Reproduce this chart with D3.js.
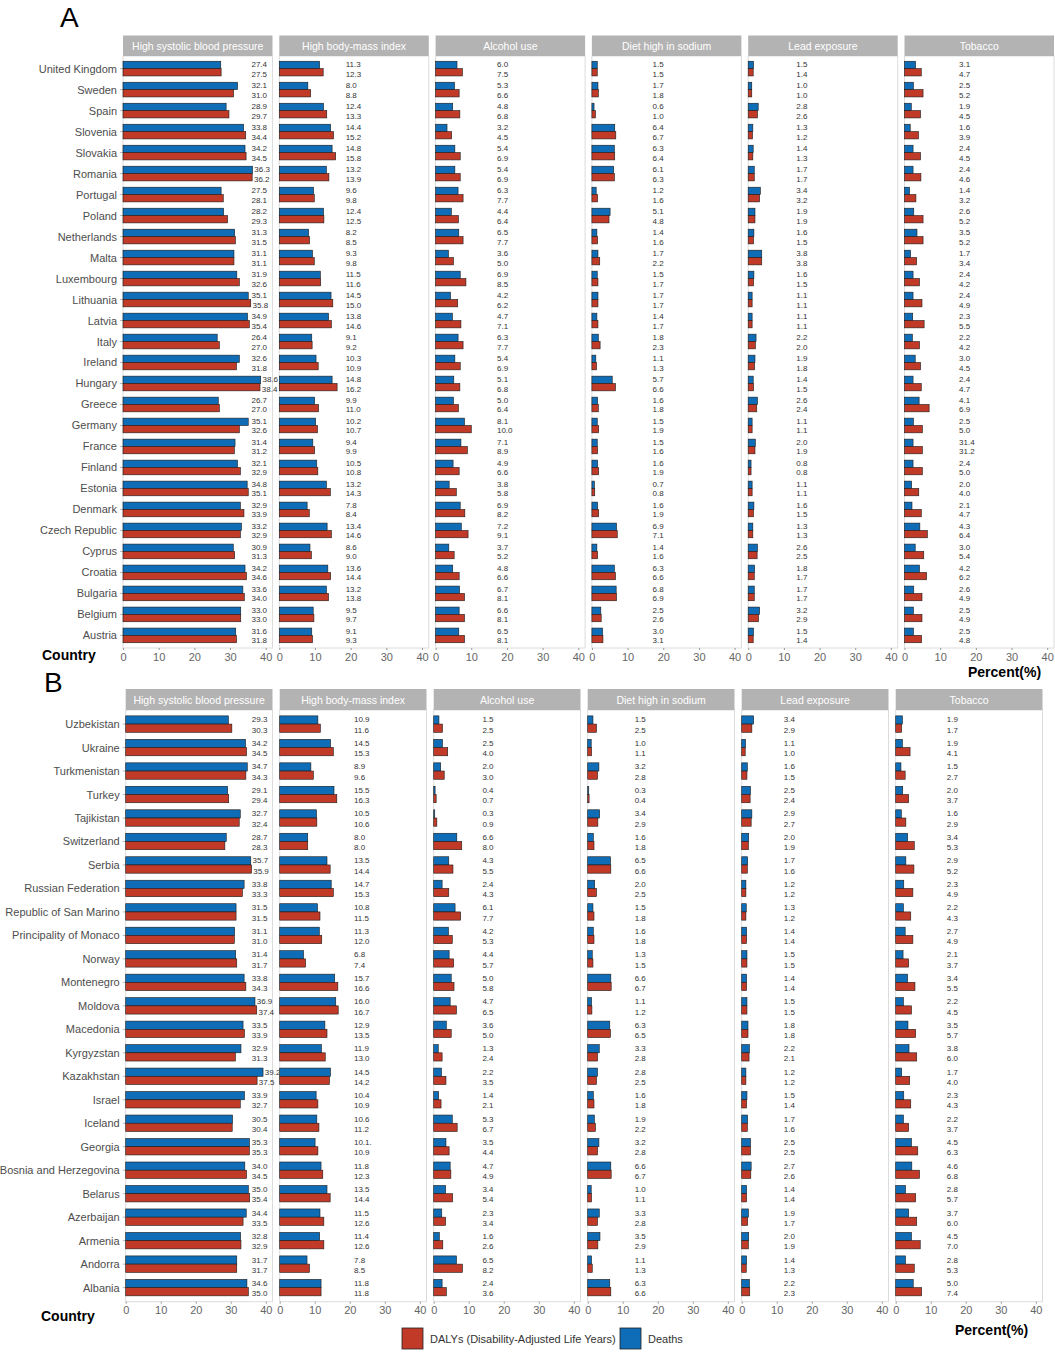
<!DOCTYPE html>
<html>
<head>
<meta charset="utf-8">
<title>Risk factors by country</title>
<script src="https://cdn.jsdelivr.net/npm/d3@7"></script>
<style>
body { margin: 0px; background: #fff; }
text { font-family: "Liberation Sans", Arial, sans-serif; }
</style>
</head>
<body>
<script>
var riskFactors = ["High systolic blood pressure", "High body-mass index", "Alcohol use", "Diet high in sodium", "Lead exposure", "Tobacco"];
var xTicks = [0, 10, 20, 30, 40];

// ---- panel A ----
var countriesA = ["United Kingdom", "Sweden", "Spain", "Slovenia", "Slovakia", "Romania", "Portugal", "Poland", "Netherlands", "Malta", "Luxembourg", "Lithuania", "Latvia", "Italy", "Ireland", "Hungary", "Greece", "Germany", "France", "Finland", "Estonia", "Denmark", "Czech Republic", "Cyprus", "Croatia", "Bulgaria", "Belgium", "Austria"];
var aSbpDeaths = [27.4, 32.1, 28.9, 33.8, 34.2, 36.3, 27.5, 28.2, 31.3, 31.1, 31.9, 35.1, 34.9, 26.4, 32.6, 38.6, 26.7, 35.1, 31.4, 32.1, 34.8, 32.9, 33.2, 30.9, 34.2, 33.6, 33.0, 31.6];
var aSbpDalys = [27.5, 31.0, 29.7, 34.4, 34.5, 36.2, 28.1, 29.3, 31.5, 31.1, 32.6, 35.8, 35.4, 27.0, 31.8, 38.4, 27.0, 32.6, 31.2, 32.9, 35.1, 33.9, 32.9, 31.3, 34.6, 34.0, 33.0, 31.8];
var aBmiDeaths = [11.3, 8.0, 12.4, 14.4, 14.8, 13.2, 9.6, 12.4, 8.2, 9.3, 11.5, 14.5, 13.8, 9.1, 10.3, 14.8, 9.9, 10.2, 9.4, 10.5, 13.2, 7.8, 13.4, 8.6, 13.6, 13.2, 9.5, 9.1];
var aBmiDalys = [12.3, 8.8, 13.3, 15.2, 15.8, 13.9, 9.8, 12.5, 8.5, 9.8, 11.6, 15.0, 14.6, 9.2, 10.9, 16.2, 11.0, 10.7, 9.9, 10.8, 14.3, 8.4, 14.6, 9.0, 14.4, 13.8, 9.7, 9.3];
var aAlcDeaths = [6.0, 5.3, 4.8, 3.2, 5.4, 5.4, 6.3, 4.4, 6.5, 3.6, 6.9, 4.2, 4.7, 6.3, 5.4, 5.1, 5.0, 8.1, 7.1, 4.9, 3.8, 6.9, 7.2, 3.7, 4.8, 6.7, 6.6, 6.5];
var aAlcDalys = [7.5, 6.6, 6.8, 4.5, 6.9, 6.9, 7.7, 6.4, 7.7, 5.0, 8.5, 6.2, 7.1, 7.7, 6.9, 6.8, 6.4, 10.0, 8.9, 6.6, 5.8, 8.2, 9.1, 5.2, 6.6, 8.1, 8.1, 8.1];
var aSodDeaths = [1.5, 1.7, 0.6, 6.4, 6.3, 6.1, 1.2, 5.1, 1.4, 1.7, 1.5, 1.7, 1.4, 1.8, 1.1, 5.7, 1.6, 1.5, 1.5, 1.6, 0.7, 1.6, 6.9, 1.4, 6.3, 6.8, 2.5, 3.0];
var aSodDalys = [1.5, 1.8, 1.0, 6.7, 6.4, 6.3, 1.6, 4.8, 1.6, 2.2, 1.7, 1.7, 1.7, 2.3, 1.3, 6.6, 1.8, 1.9, 1.6, 1.9, 0.8, 1.9, 7.1, 1.6, 6.6, 6.9, 2.6, 3.1];
var aLeadDeaths = [1.5, 1.0, 2.8, 1.3, 1.4, 1.7, 3.4, 1.9, 1.6, 3.8, 1.6, 1.1, 1.1, 2.2, 1.9, 1.4, 2.6, 1.1, 2.0, 0.8, 1.1, 1.6, 1.3, 2.6, 1.8, 1.7, 3.2, 1.5];
var aLeadDalys = [1.4, 1.0, 2.6, 1.2, 1.3, 1.7, 3.2, 1.9, 1.5, 3.8, 1.5, 1.1, 1.1, 2.0, 1.8, 1.5, 2.4, 1.1, 1.9, 0.8, 1.1, 1.5, 1.3, 2.5, 1.7, 1.7, 2.9, 1.4];
var aTobDeaths = [3.1, 2.5, 1.9, 1.6, 2.4, 2.4, 1.4, 2.6, 3.5, 1.7, 2.4, 2.4, 2.3, 2.2, 3.0, 2.4, 4.1, 2.5, 2.4, 2.4, 2.0, 2.1, 4.3, 3.0, 4.2, 2.6, 2.5, 2.5];
var aTobDalys = [4.7, 5.2, 4.5, 3.9, 4.5, 4.6, 3.2, 5.2, 5.2, 3.4, 4.2, 4.9, 5.5, 4.2, 4.5, 4.7, 6.9, 5.0, 5.0, 5.0, 4.0, 4.7, 6.4, 5.4, 6.2, 4.9, 4.9, 4.8];
// labels printed in the source that differ from the bar length
var aLabelFix = [{facet: 5, country: "France", text: ["31.4", "31.2"]}];

// ---- panel B ----
var countriesB = ["Uzbekistan", "Ukraine", "Turkmenistan", "Turkey", "Tajikistan", "Switzerland", "Serbia", "Russian Federation", "Republic of San Marino", "Principality of Monaco", "Norway", "Montenegro", "Moldova", "Macedonia", "Kyrgyzstan", "Kazakhstan", "Israel", "Iceland", "Georgia", "Bosnia and Herzegovina", "Belarus", "Azerbaijan", "Armenia", "Andorra", "Albania"];
var bSbpDeaths = [29.3, 34.2, 34.7, 29.1, 32.7, 28.7, 35.7, 33.8, 31.5, 31.1, 31.4, 33.8, 36.9, 33.5, 32.9, 39.2, 33.9, 30.5, 35.3, 34.0, 35.0, 34.4, 32.8, 31.7, 34.6];
var bSbpDalys = [30.3, 34.5, 34.3, 29.4, 32.4, 28.3, 35.9, 33.3, 31.5, 31.0, 31.7, 34.3, 37.4, 33.9, 31.3, 37.5, 32.7, 30.4, 35.3, 34.5, 35.4, 33.5, 32.9, 31.7, 35.0];
var bBmiDeaths = [10.9, 14.5, 8.9, 15.5, 10.5, 8.0, 13.5, 14.7, 10.8, 11.3, 6.8, 15.7, 16.0, 12.9, 11.9, 14.5, 10.4, 10.6, 10.1, 11.8, 13.5, 11.5, 11.4, 7.8, 11.8];
var bBmiDalys = [11.6, 15.3, 9.6, 16.3, 10.6, 8.0, 14.4, 15.3, 11.5, 12.0, 7.4, 16.6, 16.7, 13.5, 13.0, 14.2, 10.9, 11.2, 10.9, 12.3, 14.4, 12.6, 12.6, 8.5, 11.8];
var bAlcDeaths = [1.5, 2.5, 2.0, 0.4, 0.3, 6.6, 4.3, 2.4, 6.1, 4.2, 4.4, 5.0, 4.7, 3.6, 1.3, 2.2, 1.4, 5.3, 3.5, 4.7, 3.4, 2.3, 1.6, 6.5, 2.4];
var bAlcDalys = [2.5, 4.0, 3.0, 0.7, 0.9, 8.0, 5.5, 4.3, 7.7, 5.3, 5.7, 5.8, 6.5, 5.0, 2.4, 3.5, 2.1, 6.7, 4.4, 4.9, 5.4, 3.4, 2.6, 8.2, 3.6];
var bSodDeaths = [1.5, 1.0, 3.2, 0.3, 3.4, 1.6, 6.5, 2.0, 1.5, 1.6, 1.3, 6.6, 1.1, 6.3, 3.3, 2.8, 1.6, 1.9, 3.2, 6.6, 1.0, 3.3, 3.5, 1.1, 6.3];
var bSodDalys = [2.5, 1.1, 2.8, 0.4, 2.9, 1.8, 6.6, 2.5, 1.8, 1.8, 1.5, 6.7, 1.2, 6.5, 2.8, 2.5, 1.8, 2.2, 2.8, 6.7, 1.1, 2.8, 2.9, 1.3, 6.6];
var bLeadDeaths = [3.4, 1.1, 1.6, 2.5, 2.9, 2.0, 1.7, 1.2, 1.3, 1.4, 1.5, 1.4, 1.5, 1.8, 2.2, 1.2, 1.5, 1.7, 2.5, 2.7, 1.4, 1.9, 2.0, 1.4, 2.2];
var bLeadDalys = [2.9, 1.0, 1.5, 2.4, 2.7, 1.9, 1.6, 1.2, 1.2, 1.4, 1.5, 1.4, 1.5, 1.8, 2.1, 1.2, 1.4, 1.6, 2.5, 2.6, 1.4, 1.7, 1.9, 1.3, 2.3];
var bTobDeaths = [1.9, 1.9, 1.5, 2.0, 1.6, 3.4, 2.9, 2.3, 2.2, 2.7, 2.1, 3.4, 2.2, 3.5, 3.8, 1.7, 2.3, 2.2, 4.5, 4.6, 2.8, 3.7, 4.5, 2.8, 5.0];
var bTobDalys = [1.7, 4.1, 2.7, 3.7, 2.9, 5.3, 5.2, 4.9, 4.3, 4.9, 3.7, 5.5, 4.5, 5.7, 6.0, 4.0, 4.3, 3.7, 6.3, 6.8, 5.7, 6.0, 7.0, 5.3, 7.4];
var bLabelFix = [{facet: 1, country: "Georgia", text: ["10.1.", "10.9"]}];

var seriesNames = ["DALYs (Disability-Adjusted Life Years)", "Deaths"];
var colDeaths = "#0f6db7", colDalys = "#c13a28";

var W = 1055, H = 1352;
var svg = d3.select("body").append("svg").attr("width", W).attr("height", H);
svg.append("rect").attr("width", W).attr("height", H).attr("fill", "#fff");

var x = d3.scaleLinear().domain([0, 41.9]);

function drawPanel(p, countries, facets, fixes) {
  var g = svg.append("g");
  var y = d3.scalePoint().domain(countries).range([p.top, p.bottom]).padding(0.6);
  var bh = y.step() * 0.35;
  x.range([0, p.w]);

  // panel letter
  g.append("text").attr("x", p.letterX).attr("y", p.letterY).attr("font-size", 28)
    .attr("fill", "#000").text(p.letter);

  // country names + little ticks
  g.selectAll(".cty").data(countries).enter().append("text")
    .attr("x", p.left - 6).attr("y", function(d){ return y(d); })
    .attr("text-anchor", "end").attr("dominant-baseline", "central")
    .attr("font-size", 11).attr("fill", "#4d4d4d").text(function(d){ return d; });
  g.selectAll(".ctk").data(countries).enter().append("line")
    .attr("x1", p.left - 3).attr("x2", p.left).attr("y1", function(d){ return y(d); })
    .attr("y2", function(d){ return y(d); }).attr("stroke", "#999").attr("stroke-width", 0.7);

  facets.forEach(function(f, k) {
    var fx = p.left + k * (p.w + p.gap);
    var fg = g.append("g").attr("transform", "translate(" + fx + ",0)");
    var rows = countries.map(function(c, i){ return {c: c, d: f[0][i], l: f[1][i]}; });

    fg.append("rect").attr("x", 0).attr("y", p.top).attr("width", p.w).attr("height", p.bottom - p.top)
      .attr("fill", "#fff").attr("stroke", "#dcdcdc").attr("stroke-width", 1);
    fg.append("rect").attr("x", 0).attr("y", p.headTop).attr("width", p.w).attr("height", p.top - p.headTop)
      .attr("fill", "#b3b3b3");
    fg.append("text").attr("x", p.w / 2).attr("y", (p.headTop + p.top) / 2)
      .attr("text-anchor", "middle").attr("dominant-baseline", "central")
      .attr("font-size", 10.5).attr("fill", "#fff").text(riskFactors[k]);

    fg.selectAll(".bd").data(rows).enter().append("rect")
      .attr("x", 0).attr("y", function(d){ return y(d.c) - bh; })
      .attr("width", function(d){ return x(d.d); }).attr("height", bh)
      .attr("fill", colDeaths).attr("stroke", "#1a1a1a").attr("stroke-width", 0.6);
    fg.selectAll(".bl").data(rows).enter().append("rect")
      .attr("x", 0).attr("y", function(d){ return y(d.c); })
      .attr("width", function(d){ return x(d.l); }).attr("height", bh)
      .attr("fill", colDalys).attr("stroke", "#1a1a1a").attr("stroke-width", 0.6);

    var base = p.labelAt[k];
    function lab(v) { return x(Math.max(base, v + 0.5)); }
    function txt(d, j) {
      var fx2 = fixes.filter(function(q){ return q.facet == k && q.country == d.c; });
      if (fx2.length) return fx2[0].text[j];
      return (j == 0 ? d.d : d.l).toFixed(1);
    }
    fg.selectAll(".td").data(rows).enter().append("text")
      .attr("x", function(d){ return lab(d.d); }).attr("y", function(d){ return y(d.c) - bh * 0.5; })
      .attr("dominant-baseline", "central").attr("font-size", 8).attr("fill", "#333")
      .text(function(d){ return txt(d, 0); });
    fg.selectAll(".tl").data(rows).enter().append("text")
      .attr("x", function(d){ return lab(d.l); }).attr("y", function(d){ return y(d.c) + bh * 0.75; })
      .attr("dominant-baseline", "central").attr("font-size", 8).attr("fill", "#333")
      .text(function(d){ return txt(d, 1); });

    var ax = fg.append("g").attr("transform", "translate(0," + p.bottom + ")")
      .call(d3.axisBottom(x).tickValues(xTicks).tickSize(2).tickPadding(3));
    ax.select(".domain").remove();
    ax.selectAll("line").attr("stroke", "#999");
    ax.selectAll("text").attr("font-size", 11).attr("fill", "#666")
      .attr("font-family", "Liberation Sans, Arial, sans-serif");
  });

  g.append("text").attr("x", p.countryX).attr("y", p.countryY).attr("dominant-baseline", "central")
    .attr("font-size", 14).attr("font-weight", "bold").attr("fill", "#000").text("Country");
  g.append("text").attr("x", p.pctX).attr("y", p.pctY).attr("dominant-baseline", "central")
    .attr("font-size", 14).attr("font-weight", "bold").attr("fill", "#000").text("Percent(%)");
}

drawPanel({letter: "A", letterX: 60, letterY: 27, left: 123, w: 149.5, gap: 6.8,
  headTop: 35.5, top: 56, bottom: 648, labelAt: [36, 18.6, 17.2, 17, 13.5, 15.3],
  countryX: 42, countryY: 655, pctX: 968, pctY: 672},
  countriesA,
  [[aSbpDeaths, aSbpDalys], [aBmiDeaths, aBmiDalys], [aAlcDeaths, aAlcDalys],
   [aSodDeaths, aSodDalys], [aLeadDeaths, aLeadDalys], [aTobDeaths, aTobDalys]],
  aLabelFix);

drawPanel({letter: "B", letterX: 44, letterY: 692, left: 125.7, w: 146.8, gap: 7.2,
  headTop: 689, top: 710, bottom: 1301.7, labelAt: [36, 21.2, 13.9, 13.4, 12, 14.6],
  countryX: 41, countryY: 1316, pctX: 955, pctY: 1330},
  countriesB,
  [[bSbpDeaths, bSbpDalys], [bBmiDeaths, bBmiDalys], [bAlcDeaths, bAlcDalys],
   [bSodDeaths, bSodDalys], [bLeadDeaths, bLeadDalys], [bTobDeaths, bTobDalys]],
  bLabelFix);

// legend
var leg = svg.append("g");
var legItems = [{n: seriesNames[0], c: colDalys, x: 402}, {n: seriesNames[1], c: colDeaths, x: 620}];
leg.selectAll("rect").data(legItems).enter().append("rect")
  .attr("x", function(d){ return d.x; }).attr("y", 1328).attr("width", 21).attr("height", 21)
  .attr("fill", function(d){ return d.c; }).attr("stroke", "#222").attr("stroke-width", 0.8);
leg.selectAll("text").data(legItems).enter().append("text")
  .attr("x", function(d){ return d.x + 28; }).attr("y", 1339).attr("dominant-baseline", "central")
  .attr("font-size", 11).attr("fill", "#333").text(function(d){ return d.n; });
</script>
</body>
</html>
